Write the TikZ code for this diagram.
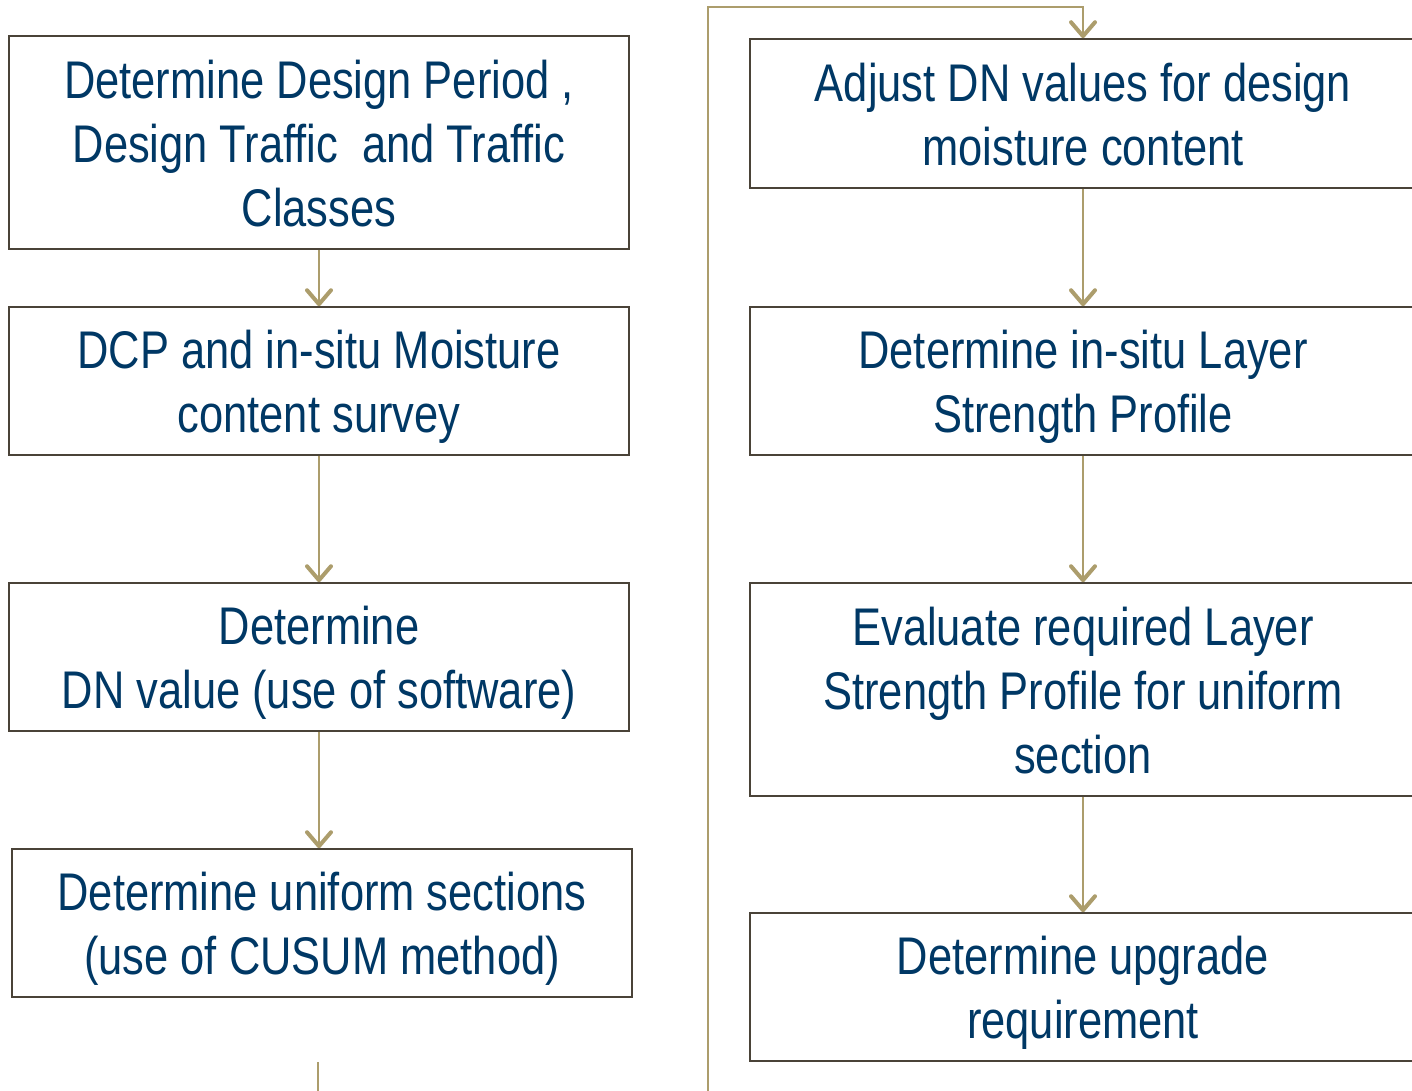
\documentclass[tikz,border=0pt]{standalone}
\usepackage{fontspec}
\setmainfont{Liberation Sans}[FakeStretch=0.82]
\usetikzlibrary{arrows.meta}
\definecolor{txtblue}{HTML}{003865}
\definecolor{boxline}{HTML}{4A4338}
\definecolor{arrcol}{HTML}{AC9D6C}
\newcommand\bxtext[1]{\raisebox{-7pt}[\height][\depth]{\begin{tabular}{@{}c@{}}#1\end{tabular}}}
\tikzset{
  box/.style={draw=boxline, line width=1.6pt, fill=white, text=txtblue,
    inner sep=0pt, font=\fontsize{53}{64}\selectfont},
  lbox/.style={box, minimum width=620pt},
  rbox/.style={box, minimum width=666pt},
  arr/.style={draw=arrcol, line width=1.8pt, -{Straight Barb[length=14pt,width=24pt,line width=4pt,round]}},
  plain/.style={draw=arrcol, line width=1.8pt}
}
\begin{document}
\begin{tikzpicture}[x=1pt,y=-1pt]
\useasboundingbox (0,0) rectangle (1412,1091);
\clip (0,0) rectangle (1412,1091);
\node[lbox, minimum height=213pt] (l1) at (319,142.5) {\bxtext{Determine Design Period ,\\Design Traffic\ \ and Traffic\\Classes}};
\node[lbox, minimum height=148pt] (l2) at (319,381) {\bxtext{DCP and in-situ Moisture\\content survey}};
\node[lbox, minimum height=148pt] (l3) at (319,657) {\bxtext{Determine\\DN value (use of software)}};
\node[lbox, minimum height=148pt] (l4) at (322,923) {\bxtext{Determine uniform sections\\(use of CUSUM method)}};
\node[rbox, minimum height=149pt] (r1) at (1083,113.5) {\bxtext{Adjust DN values for design\\moisture content}};
\node[rbox, minimum height=148pt] (r2) at (1083,381) {\bxtext{Determine in-situ Layer\\Strength Profile}};
\node[rbox, minimum height=213pt] (r3) at (1083,689.5) {\bxtext{Evaluate required Layer\\Strength Profile for uniform\\section}};
\node[rbox, minimum height=148pt] (r4) at (1083,987) {\bxtext{Determine upgrade\\requirement}};
\coordinate (s0) at (318,1062);
\coordinate (s1) at (318,1091);
\coordinate (p0) at (708,1091);
\coordinate (p1) at (708,7);
\draw[arr] (l1.south) -- (l2.north);
\draw[arr] (l2.south) -- (l3.north);
\draw[arr] (l3.south) -- (l3.south |- l4.north);
\draw[arr] (r1.south) -- (r2.north);
\draw[arr] (r2.south) -- (r3.north);
\draw[arr] (r3.south) -- (r4.north);
\draw[plain] (s0) -- (s1);
\draw[arr] (p0) -- (p1) -| (r1.north);
\end{tikzpicture}
\end{document}
